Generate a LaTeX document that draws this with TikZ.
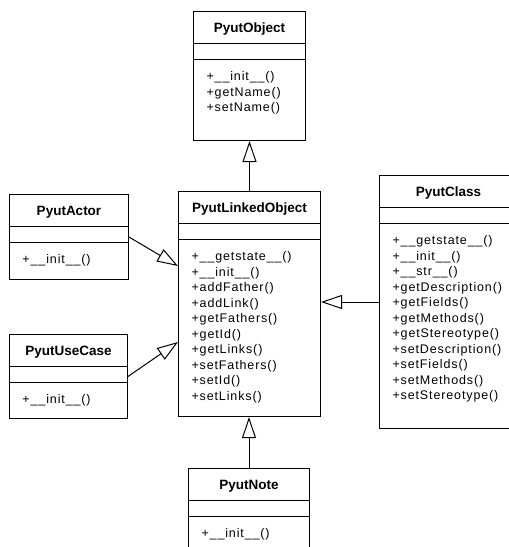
\documentclass[tikz,border=0pt]{standalone}
\usepackage{fontspec}
\setmainfont{Liberation Sans}
\newfontfamily\memberfont[LetterSpace=7]{Liberation Sans}
\usetikzlibrary{positioning,arrows.meta}

\begin{document}
\begin{tikzpicture}[x=1pt,y=-1pt,line width=1pt,
  umlclass/.style={draw,anchor=north west,inner sep=0pt,
    path picture={\draw ([yshift=-32pt]path picture bounding box.north west) -- ([yshift=-32pt]path picture bounding box.north east)
      ([yshift=-48pt]path picture bounding box.north west) -- ([yshift=-48pt]path picture bounding box.north east);}},
  classname/.style={anchor=base,inner sep=0pt,font=\fontsize{13.5}{15}\selectfont\bfseries},
  members/.style={anchor=north west,inner sep=0pt,align=left,font=\fontsize{12.5}{15.5}\selectfont\memberfont},
  inherit/.style={-{Triangle[open,length=21pt,width=14pt]}}]
\clip (0,0) rectangle (509,547);
% classes
\node[umlclass,minimum width=112pt,minimum height=129pt] (object) at (193,11) {};
\node[classname] (objectname) at ([yshift=-21pt]object.north) {PyutObject};
\node[members] (objectops) at ([shift={(13pt,-60pt)}]object.north west) {+\_\_init\_\_()\\+getName()\\+setName()};

\node[umlclass,minimum width=142pt,minimum height=225pt] (linked) at (178,191) {};
\node[classname] (linkedname) at ([yshift=-21pt]linked.north) {PyutLinkedObject};
\node[members] (linkedops) at ([shift={(13pt,-60pt)}]linked.north west) {+\_\_getstate\_\_()\\+\_\_init\_\_()\\+addFather()\\+addLink()\\+getFathers()\\+getId()\\+getLinks()\\+setFathers()\\+setId()\\+setLinks()};

\node[umlclass,minimum width=138pt,minimum height=253pt] (class) at (379,175) {};
\node[classname] (classname) at ([yshift=-21pt]class.north) {PyutClass};
\node[members] (classops) at ([shift={(13pt,-60pt)}]class.north west) {+\_\_getstate\_\_()\\+\_\_init\_\_()\\+\_\_str\_\_()\\+getDescription()\\+getFields()\\+getMethods()\\+getStereotype()\\+setDescription()\\+setFields()\\+setMethods()\\+setStereotype()};

\node[umlclass,minimum width=119pt,minimum height=85pt] (actor) at (9,194) {};
\node[classname] (actorname) at ([yshift=-21pt]actor.north) {PyutActor};
\node[members] (actorops) at ([shift={(13pt,-60pt)}]actor.north west) {+\_\_init\_\_()};

\node[umlclass,minimum width=118pt,minimum height=84pt] (usecase) at (9,334) {};
\node[classname] (usecasename) at ([yshift=-21pt]usecase.north) {PyutUseCase};
\node[members] (usecaseops) at ([shift={(13pt,-60pt)}]usecase.north west) {+\_\_init\_\_()};

\node[umlclass,minimum width=121pt,minimum height=100pt] (note) at (188,468) {};
\node[classname] (notename) at ([yshift=-21pt]note.north) {PyutNote};
\node[members] (noteops) at ([shift={(13pt,-60pt)}]note.north west) {+\_\_init\_\_()};
% generalisations
\draw[inherit] (linked.north) -- (object.south);
\draw[inherit] (note.north) -- (note.north |- linked.south);
\draw[inherit] (class.west) -- (class.west -| linked.east);
\draw[inherit] (actor.east) -- ([yshift=38pt]linked.west);
\draw[inherit] (usecase.east) -- ([yshift=-38pt]linked.west);
\end{tikzpicture}
\end{document}
